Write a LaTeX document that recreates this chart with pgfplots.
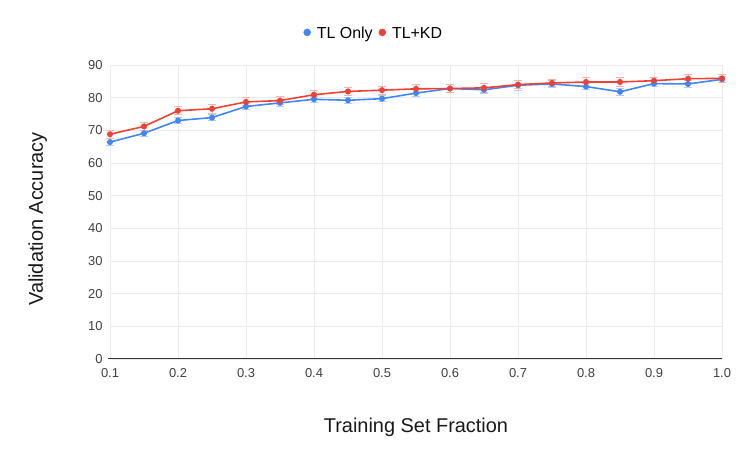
\documentclass[border=0pt]{standalone}
\usepackage{pgfplots}
\pgfplotsset{compat=1.18}
\usepackage{fontspec}
\setmainfont{Liberation Sans}
\definecolor{gblue}{HTML}{4285F4}
\definecolor{gred}{HTML}{EA4335}
\definecolor{gridc}{HTML}{EBEBEB}
\colorlet{eblue}{gblue!40!white}
\colorlet{ered}{gred!40!white}
\begin{document}
\begin{tikzpicture}[x=1bp,y=1bp]
\path[use as bounding box] (0,0) rectangle (747,462);
\begin{axis}[
  at={(110bp,103bp)}, anchor=south west,
  scale only axis, width=612bp, height=294bp,
  xmin=0.1, xmax=1.0, ymin=0, ymax=90,
  xtick={0.1,0.2,0.3,0.4,0.5,0.6,0.7,0.8,0.9,1.0},
  xticklabels={0.1,0.2,0.3,0.4,0.5,0.6,0.7,0.8,0.9,1.0},
  ytick={0,10,...,90},
  grid=major,
  major grid style={gridc, line width=0.8pt},
  axis line style={draw=none},
  major tick length=0pt,
  tick style={draw=none},
  /pgf/number format/assume math mode=true,
  ticklabel style={font=\fontsize{13}{15}\selectfont, text=black!75},
  xticklabel style={yshift=-6bp},
  yticklabel style={xshift=-4bp},
  xlabel={Training Set Fraction},
  ylabel={Validation Accuracy},
  label style={font=\fontsize{20}{24}\selectfont, text=black!90},
  xlabel style={at={(axis description cs:0.5,-0.231)}, anchor=center},
  ylabel style={at={(axis description cs:-0.118,0.476)}, anchor=center},
  legend style={at={(0.431,1.100)}, anchor=center, draw=none, fill=none,
    font=\fontsize{16}{18}\selectfont, column sep=4bp,
    nodes={text height=0.72em, text depth=0.22em}},
  legend columns=2,
  clip=false,
]
\draw[black!80, line width=1pt] (axis cs:0.097,0) -- (axis cs:1.0,0);
\addlegendimage{legend image code/.code={\fill[gblue] (0.3cm,0.34em) circle (3.5pt);}}
\addlegendentry{TL Only}
\addlegendimage{legend image code/.code={\fill[gred] (0.3cm,0.34em) circle (3.5pt);}}
\addlegendentry{TL+KD}
\addplot[forget plot, draw=none, mark=none,
  error bars/.cd, y dir=both, y explicit, error mark=|,
  error bar style={eblue, line width=1pt},
  error mark options={eblue, line width=1pt, mark size=4pt}]
table[x=x, y=y, y error=e] {
x y e
0.10 66.4 1.0
0.15 69.1 1.0
0.20 73.0 1.0
0.25 73.9 1.0
0.30 77.3 1.0
0.35 78.4 1.0
0.40 79.5 1.0
0.45 79.2 1.0
0.50 79.7 1.0
0.55 81.4 1.0
0.60 82.8 1.2
0.65 82.4 1.0
0.70 83.8 1.5
0.75 84.2 1.1
0.80 83.4 1.0
0.85 81.8 1.0
0.90 84.3 1.0
0.95 84.2 1.0
1.00 85.6 1.0
};
\addplot[forget plot, draw=none, mark=none,
  error bars/.cd, y dir=both, y explicit, error mark=|,
  error bar style={ered, line width=1pt},
  error mark options={ered, line width=1pt, mark size=4pt}]
table[x=x, y=y, y error=e] {
x y e
0.10 68.8 1.3
0.15 71.2 1.3
0.20 76.0 1.3
0.25 76.6 1.3
0.30 78.7 1.2
0.35 79.1 1.2
0.40 80.9 1.2
0.45 81.9 1.3
0.50 82.3 1.2
0.55 82.7 1.3
0.60 82.8 1.2
0.65 83.0 1.3
0.70 84.0 1.2
0.75 84.5 1.2
0.80 84.8 1.3
0.85 84.8 1.3
0.90 85.2 1.1
0.95 85.8 1.3
1.00 85.9 1.3
};
\addplot[forget plot, gblue, line width=1.6pt, mark=*, mark size=2.2pt]
table[x=x, y=y] {
x y
0.10 66.4
0.15 69.1
0.20 73.0
0.25 73.9
0.30 77.3
0.35 78.4
0.40 79.5
0.45 79.2
0.50 79.7
0.55 81.4
0.60 82.8
0.65 82.4
0.70 83.8
0.75 84.2
0.80 83.4
0.85 81.8
0.90 84.3
0.95 84.2
1.00 85.6
};
\addplot[forget plot, gred, line width=1.6pt, mark=*, mark size=2.2pt]
table[x=x, y=y] {
x y
0.10 68.8
0.15 71.2
0.20 76.0
0.25 76.6
0.30 78.7
0.35 79.1
0.40 80.9
0.45 81.9
0.50 82.3
0.55 82.7
0.60 82.8
0.65 83.0
0.70 84.0
0.75 84.5
0.80 84.8
0.85 84.8
0.90 85.2
0.95 85.8
1.00 85.9
};
\end{axis}
\end{tikzpicture}
\end{document}
